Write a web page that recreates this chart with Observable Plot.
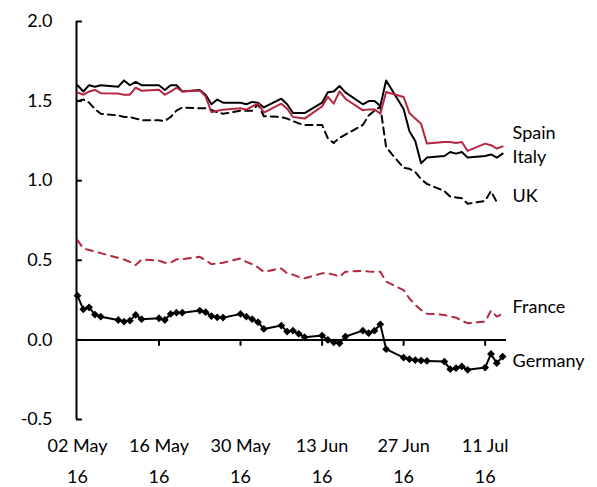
<!DOCTYPE html>
<html><head><meta charset="utf-8">
<script src="https://cdn.jsdelivr.net/npm/d3@7"></script>
<script src="https://cdn.jsdelivr.net/npm/@observablehq/plot@0.6"></script>
<style>body{margin:0;background:#fff}</style>
</head><body><div id="chart"></div>
<script>
const dates = [
"2016-05-02","2016-05-03","2016-05-04","2016-05-05","2016-05-06",
"2016-05-09","2016-05-10","2016-05-11","2016-05-12","2016-05-13",
"2016-05-16","2016-05-17","2016-05-18","2016-05-19","2016-05-20",
"2016-05-23","2016-05-24","2016-05-25","2016-05-26","2016-05-27",
"2016-05-30","2016-05-31","2016-06-01","2016-06-02","2016-06-03",
"2016-06-06","2016-06-07","2016-06-08","2016-06-09","2016-06-10",
"2016-06-13","2016-06-14","2016-06-15","2016-06-16","2016-06-17",
"2016-06-20","2016-06-21","2016-06-22","2016-06-23","2016-06-24",
"2016-06-27","2016-06-28","2016-06-29","2016-06-30","2016-07-01",
"2016-07-04","2016-07-05","2016-07-06","2016-07-07","2016-07-08",
"2016-07-11","2016-07-12","2016-07-13","2016-07-14"];

const spain = [
1.555,1.54,1.56,1.57,1.55,
1.547,1.54,1.54,1.584,1.565,
1.572,1.54,1.56,1.584,1.561,
1.567,1.53,1.43,1.44,1.445,
1.455,1.446,1.467,1.484,1.428,
1.484,1.452,1.40,1.395,1.39,
1.467,1.526,1.484,1.561,1.515,
1.442,1.448,1.448,1.421,1.557,
1.526,1.425,1.39,1.358,1.233,
1.243,1.243,1.237,1.243,1.187,
1.233,1.223,1.202,1.216];

const italy = [
1.60,1.56,1.60,1.59,1.60,
1.59,1.63,1.60,1.62,1.60,
1.60,1.57,1.60,1.60,1.56,
1.57,1.54,1.48,1.51,1.49,
1.49,1.48,1.495,1.49,1.46,
1.515,1.48,1.425,1.425,1.425,
1.49,1.555,1.56,1.595,1.555,
1.48,1.50,1.50,1.47,1.63,
1.45,1.31,1.25,1.11,1.145,
1.155,1.18,1.17,1.18,1.145,
1.155,1.165,1.145,1.17];

const uk = [
1.50,1.51,1.49,1.45,1.42,
1.41,1.40,1.40,1.39,1.38,
1.38,1.375,1.40,1.44,1.46,
1.455,1.455,1.445,1.43,1.42,
1.44,1.44,1.44,1.48,1.405,
1.40,1.39,1.375,1.36,1.35,
1.35,1.265,1.237,1.27,1.29,
1.35,1.41,1.44,1.465,1.21,
1.08,1.075,1.055,1.01,0.98,
0.935,0.90,0.895,0.89,0.855,
0.873,0.935,0.865,null];

const france = [
0.627,0.575,0.565,0.555,0.545,
0.515,0.505,0.49,0.47,0.505,
0.497,0.485,0.485,0.506,0.506,
0.522,0.50,0.476,0.48,0.485,
0.512,0.49,0.475,0.455,0.428,
0.449,0.418,0.41,0.395,0.387,
0.418,0.418,0.41,0.397,0.428,
0.434,0.43,0.428,0.428,0.366,
0.313,0.26,0.22,0.188,0.165,
0.157,0.145,0.14,0.12,0.105,
0.115,0.184,0.146,0.165];

const germany = [
0.278,0.192,0.205,0.159,0.146,
0.125,0.115,0.121,0.157,0.130,
0.136,0.125,0.163,0.171,0.171,
0.184,0.174,0.150,0.142,0.140,
0.163,0.146,0.130,0.111,0.069,
0.090,0.052,0.058,0.038,0.017,
0.027,0.000,-0.015,-0.021,0.021,
0.058,0.042,0.058,0.098,-0.058,
-0.111,-0.121,-0.127,-0.130,-0.132,
-0.136,-0.184,-0.178,-0.167,-0.188,
-0.174,-0.088,-0.146,-0.105];

const labelNames = ["Spain","Italy","UK","France","Germany"];
const labelY = [1.30, 1.15, 0.905, 0.207, -0.132];

const yTicks = [-0.5, 0, 0.5, 1, 1.5, 2];
const yTickLabels = ["-0.5","0.0","0.5","1.0","1.5","2.0"];
const xTickDates = ["2016-05-02","2016-05-16","2016-05-30","2016-06-13","2016-06-27","2016-07-11"];
const xTickLabels = ["02 May","16 May","30 May","13 Jun","27 Jun","11 Jul"];
const xTickYears = ["16","16","16","16","16","16"];

const RED = "#b5263f";
const parse = d3.utcParse("%Y-%m-%d");
const D = dates.map(parse);
const ticksX = xTickDates.map(parse);
const rowsOf = (vals) => vals.map((v, i) => ({date: D[i], value: v})).filter(r => r.value != null);

const xStart = new Date(Date.UTC(2016, 4, 1, 20));
const xEnd = new Date(Date.UTC(2016, 6, 14, 16));
const xTickEnd = new Date(Date.UTC(2016, 4, 2, 20));
const lastDate = D[D.length - 1];

const idxX = d => ticksX.findIndex(t => +t === +d);
const idxY = d => yTicks.findIndex(t => Math.abs(t - d) < 1e-9);

const chart = Plot.plot({
  width: 597, height: 487,
  marginLeft: 76, marginRight: 91, marginTop: 21, marginBottom: 68,
  style: {fontFamily: "Lato, 'Open Sans', sans-serif", fontSize: "18px", color: "#000", background: "#fff"},
  x: {type: "utc", domain: [xStart, xEnd], label: null},
  y: {domain: [-0.5, 2], label: null},
  marks: [
    Plot.axisY(yTicks, {tickSize: 0, tickPadding: 24, fontSize: 18, label: null, tickFormat: d => yTickLabels[idxY(d)]}),
    Plot.axisX(ticksX, {tickSize: 0, tickPadding: 20, fontSize: 18, label: null, tickFormat: d => xTickLabels[idxX(d)]}),
    Plot.axisX(ticksX, {tickSize: 0, tickPadding: 51, fontSize: 18, label: null, tickFormat: d => xTickYears[idxX(d)]}),
    Plot.ruleX([xStart], {y1: -0.5, y2: 2, stroke: "#000", strokeWidth: 2}),
    Plot.ruleY(yTicks, {y: d => d, x1: xStart, x2: xTickEnd, stroke: "#000", strokeWidth: 2}),
    Plot.ruleY([0], {stroke: "#000", strokeWidth: 2}),
    Plot.ruleX(ticksX.slice(1), {x: d => d, y1: 0, y2: -0.04, stroke: "#000", strokeWidth: 2}),
    Plot.line(rowsOf(uk), {x: "date", y: "value", stroke: "#000", strokeWidth: 2, strokeDasharray: "7,5"}),
    Plot.line(rowsOf(france), {x: "date", y: "value", stroke: RED, strokeWidth: 2, strokeDasharray: "7,6"}),
    Plot.line(rowsOf(italy), {x: "date", y: "value", stroke: "#000", strokeWidth: 2}),
    Plot.line(rowsOf(spain), {x: "date", y: "value", stroke: RED, strokeWidth: 2}),
    Plot.line(rowsOf(germany), {x: "date", y: "value", stroke: "#000", strokeWidth: 2}),
    Plot.dot(rowsOf(germany), {x: "date", y: "value", symbol: "diamond2", r: 3.5, fill: "#000", stroke: "none"}),
    Plot.text(labelNames, {x: () => lastDate, y: (d, i) => labelY[i], text: d => d, textAnchor: "start", dx: 10, fontSize: 18, fill: "#000"})
  ]
});
document.getElementById("chart").appendChild(chart);
</script>
</body></html>
